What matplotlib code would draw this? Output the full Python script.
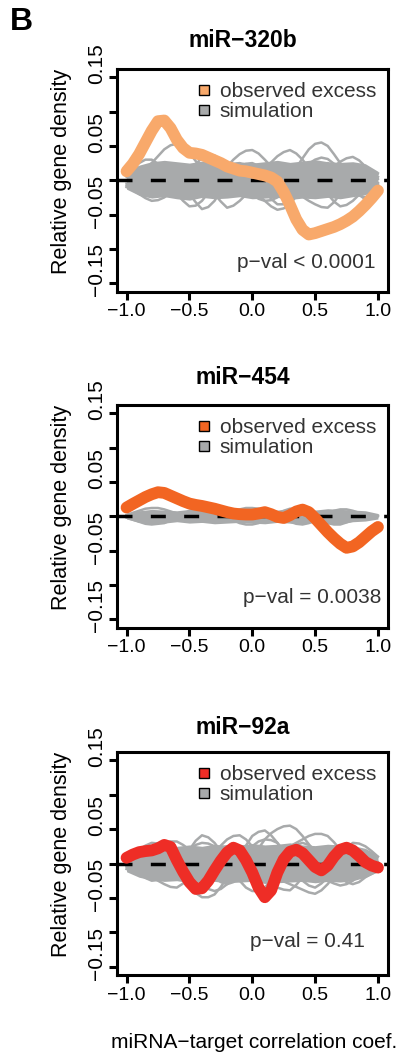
import matplotlib
matplotlib.use("Agg")
import matplotlib.pyplot as plt
from matplotlib.lines import Line2D
from matplotlib.transforms import ScaledTranslation

plt.rcParams['font.family'] = ['Liberation Sans', 'DejaVu Sans']
plt.rcParams['lines.scale_dashes'] = False

# ---------------- data ----------------
titles = ["miR\u2212320b", "miR\u2212454", "miR\u221292a"]
pvals = ["p\u2212val < 0.0001", "p\u2212val = 0.0038", "p\u2212val = 0.41"]
obs_colors = ["#F8A96B", "#F26522", "#EE2D26"]
legend_labels = ["observed excess", "simulation"]

x_obs = [-1.00, -0.95, -0.90, -0.85, -0.80, -0.75, -0.70, -0.65, -0.60, -0.55,
         -0.50, -0.45, -0.40, -0.35, -0.30, -0.25, -0.20, -0.15, -0.10, -0.05,
         0.00, 0.05, 0.10, 0.15, 0.20, 0.25, 0.30, 0.35, 0.40, 0.45,
         0.50, 0.55, 0.60, 0.65, 0.70, 0.75, 0.80, 0.85, 0.90, 0.95, 1.00]

obs_320b = [0.013, 0.024, 0.038, 0.055, 0.072, 0.086, 0.087, 0.076, 0.059, 0.047,
            0.040, 0.039, 0.037, 0.033, 0.029, 0.025, 0.020, 0.017, 0.014, 0.013,
            0.011, 0.009, 0.007, 0.004, -0.002, -0.017, -0.036, -0.057, -0.072, -0.079,
            -0.077, -0.074, -0.071, -0.068, -0.064, -0.059, -0.053, -0.045, -0.036, -0.026, -0.015]

obs_454 = [0.0127, 0.018, 0.023, 0.028, 0.032, 0.035, 0.034, 0.030, 0.026, 0.022,
           0.0185, 0.0165, 0.015, 0.013, 0.011, 0.0085, 0.006, 0.004, 0.003, 0.0025,
           0.0025, 0.004, 0.006, 0.003, -0.001, -0.0025, 0.0015, 0.007, 0.0097, 0.006,
           -0.003, -0.013, -0.023, -0.032, -0.040, -0.046, -0.044, -0.038, -0.030, -0.022, -0.0156]

obs_92a = [0.0083, 0.013, 0.0165, 0.018, 0.019, 0.022, 0.027, 0.024, 0.005, -0.012,
           -0.027, -0.037, -0.036, -0.025, -0.010, 0.004, 0.016, 0.023, 0.019, 0.005,
           -0.013, -0.035, -0.049, -0.039, -0.013, 0.006, 0.017, 0.020, 0.015, 0.005,
           -0.005, -0.010, -0.003, 0.010, 0.020, 0.023, 0.019, 0.011, 0.002, -0.003, -0.006]

x_band = [-1.0, -0.9, -0.8, -0.7, -0.6, -0.5, -0.4, -0.3, -0.2, -0.1, 0.0,
          0.1, 0.2, 0.3, 0.4, 0.5, 0.6, 0.7, 0.8, 0.9, 1.0]

# dense simulation envelope (upper / lower)
sim_hi_320b = [0.014, 0.022, 0.027, 0.029, 0.027, 0.025, 0.028, 0.026, 0.024, 0.027, 0.025,
               0.027, 0.029, 0.026, 0.028, 0.030, 0.027, 0.026, 0.027, 0.024, 0.013]
sim_lo_320b = [-0.013, -0.022, -0.026, -0.024, -0.027, -0.029, -0.025, -0.027, -0.026, -0.024, -0.027,
               -0.026, -0.025, -0.028, -0.026, -0.027, -0.025, -0.027, -0.024, -0.021, -0.012]
# individual simulation curves (on the x_obs grid)
sim_curves_320b = [
    [0.000, 0.005, 0.010, 0.017, 0.025, 0.035, 0.045, 0.051, 0.053, 0.048, 0.040, 0.028, 0.015, 0.004, -0.005, -0.009, -0.010, -0.006, 0.000, 0.005, 0.008, 0.011, 0.012, 0.012, 0.010, 0.005, 0.000, -0.005, -0.008, -0.008, -0.005, 0.000, 0.005, 0.008, 0.010, 0.009, 0.006, 0.003, 0.000, -0.002, -0.004],
    [-0.005, -0.003, 0.000, 0.005, 0.008, 0.010, 0.010, 0.007, 0.002, -0.004, -0.010, -0.014, -0.015, -0.011, -0.005, 0.001, 0.006, 0.009, 0.010, 0.008, 0.005, 0.000, -0.005, -0.009, -0.010, -0.005, 0.005, 0.018, 0.032, 0.045, 0.053, 0.055, 0.050, 0.038, 0.025, 0.013, 0.005, 0.001, 0.000, 0.001, 0.002],
    [0.005, 0.008, 0.010, 0.009, 0.005, -0.002, -0.010, -0.015, -0.020, -0.030, -0.038, -0.037, -0.030, -0.018, -0.005, 0.008, 0.020, 0.030, 0.038, 0.043, 0.044, 0.039, 0.030, 0.020, 0.010, 0.000, -0.010, -0.016, -0.020, -0.019, -0.015, -0.007, 0.000, 0.006, 0.010, 0.009, 0.005, 0.000, -0.005, -0.007, -0.008],
    [-0.010, -0.013, -0.015, -0.013, -0.010, -0.005, 0.000, 0.006, 0.010, 0.010, 0.008, 0.002, -0.005, -0.012, -0.020, -0.031, -0.040, -0.037, -0.030, -0.021, -0.010, 0.002, 0.015, 0.026, 0.035, 0.041, 0.044, 0.039, 0.030, 0.018, 0.005, -0.008, -0.020, -0.031, -0.038, -0.036, -0.030, -0.021, -0.012, -0.008, -0.005],
    [0.008, 0.007, 0.005, -0.002, -0.010, -0.016, -0.020, -0.019, -0.015, -0.008, 0.000, 0.008, 0.015, 0.019, 0.020, 0.016, 0.010, 0.002, -0.005, -0.010, -0.015, -0.022, -0.030, -0.038, -0.043, -0.041, -0.035, -0.023, -0.010, 0.000, 0.008, 0.012, 0.015, 0.020, 0.027, 0.032, 0.034, 0.029, 0.020, 0.012, 0.005],
    [0.000, 0.006, 0.012, 0.017, 0.020, 0.019, 0.015, 0.008, 0.000, -0.010, -0.020, -0.032, -0.042, -0.039, -0.030, -0.015, 0.000, 0.011, 0.020, 0.024, 0.025, 0.021, 0.015, 0.008, 0.000, -0.006, -0.012, -0.018, -0.024, -0.030, -0.035, -0.039, -0.040, -0.032, -0.020, -0.007, 0.005, 0.012, 0.015, 0.012, 0.010],
    [-0.008, -0.014, -0.020, -0.026, -0.030, -0.029, -0.025, -0.018, -0.010, 0.000, 0.010, 0.023, 0.033, 0.038, 0.036, 0.029, 0.020, 0.010, 0.000, -0.010, -0.020, -0.027, -0.030, -0.029, -0.025, -0.018, -0.010, 0.002, 0.015, 0.024, 0.030, 0.033, 0.031, 0.024, 0.015, 0.003, -0.010, -0.021, -0.028, -0.024, -0.015],
    [0.010, 0.018, 0.025, 0.030, 0.030, 0.024, 0.015, 0.003, -0.010, -0.020, -0.025, -0.024, -0.020, -0.010, 0.000, 0.010, 0.018, 0.024, 0.025, 0.019, 0.010, -0.002, -0.015, -0.027, -0.035, -0.035, -0.030, -0.018, -0.005, 0.006, 0.015, 0.022, 0.025, 0.019, 0.010, -0.003, -0.015, -0.022, -0.025, -0.019, -0.010],
]

sim_hi_454 = [0.004, 0.008, 0.010, 0.009, 0.008, 0.010, 0.009, 0.011, 0.010, 0.009, 0.011,
              0.010, 0.009, 0.011, 0.010, 0.009, 0.011, 0.010, 0.009, 0.008, 0.004]
sim_lo_454 = [-0.004, -0.009, -0.011, -0.010, -0.008, -0.010, -0.009, -0.011, -0.010, -0.009, -0.010,
              -0.011, -0.009, -0.010, -0.011, -0.009, -0.010, -0.011, -0.008, -0.007, -0.004]
sim_curves_454 = [
    [0.002, 0.005, 0.008, 0.011, 0.012, 0.012, 0.010, 0.007, 0.004, 0.000, -0.004, -0.007, -0.008, -0.007, -0.004, 0.000, 0.004, 0.008, 0.010, 0.012, 0.012, 0.011, 0.008, 0.004, 0.000, -0.004, -0.008, -0.011, -0.012, -0.010, -0.006, -0.001, 0.004, 0.008, 0.010, 0.010, 0.008, 0.005, 0.002, 0.001, 0.000],
    [-0.002, -0.005, -0.008, -0.011, -0.012, -0.011, -0.010, -0.006, -0.002, 0.003, 0.008, 0.011, 0.012, 0.011, 0.008, 0.003, -0.002, -0.006, -0.010, -0.012, -0.012, -0.010, -0.006, -0.001, 0.004, 0.008, 0.011, 0.011, 0.008, 0.003, -0.002, -0.006, -0.010, -0.012, -0.012, -0.009, -0.006, -0.003, 0.000, 0.001, 0.001],
]

sim_hi_92a = [0.012, 0.020, 0.024, 0.026, 0.025, 0.027, 0.025, 0.028, 0.026, 0.027, 0.029,
              0.027, 0.028, 0.030, 0.027, 0.026, 0.028, 0.027, 0.026, 0.022, 0.012]
sim_lo_92a = [-0.012, -0.020, -0.024, -0.026, -0.025, -0.028, -0.027, -0.026, -0.028, -0.027, -0.026,
              -0.029, -0.028, -0.027, -0.026, -0.028, -0.026, -0.027, -0.025, -0.020, -0.012]
sim_curves_92a = [
    [0.000, -0.003, -0.005, -0.008, -0.010, -0.008, -0.005, 0.000, 0.005, 0.009, 0.010, 0.008, 0.005, -0.002, -0.010, -0.016, -0.020, -0.017, -0.010, 0.000, 0.010, 0.022, 0.035, 0.044, 0.050, 0.054, 0.055, 0.050, 0.040, 0.028, 0.015, 0.002, -0.010, -0.017, -0.020, -0.016, -0.010, -0.005, 0.000, 0.001, 0.002],
    [0.005, 0.008, 0.010, 0.010, 0.008, 0.004, 0.000, -0.007, -0.015, -0.025, -0.035, -0.043, -0.049, -0.049, -0.045, -0.034, -0.020, -0.005, 0.010, 0.026, 0.040, 0.046, 0.048, 0.041, 0.030, 0.015, 0.000, -0.011, -0.020, -0.024, -0.025, -0.019, -0.010, 0.000, 0.010, 0.014, 0.015, 0.011, 0.005, 0.002, 0.000],
    [-0.005, -0.003, 0.000, 0.005, 0.010, 0.014, 0.015, 0.011, 0.005, -0.003, -0.010, -0.010, -0.005, 0.004, 0.015, 0.026, 0.035, 0.040, 0.041, 0.035, 0.025, 0.013, 0.000, -0.010, -0.020, -0.026, -0.030, -0.034, -0.038, -0.042, -0.044, -0.039, -0.030, -0.018, -0.005, 0.006, 0.015, 0.014, 0.010, 0.005, 0.000],
    [0.000, 0.003, 0.005, 0.003, 0.000, -0.006, -0.010, -0.009, -0.005, 0.006, 0.020, 0.033, 0.041, 0.038, 0.030, 0.018, 0.005, -0.006, -0.015, -0.019, -0.020, -0.016, -0.010, 0.000, 0.010, 0.018, 0.025, 0.030, 0.035, 0.040, 0.043, 0.043, 0.040, 0.031, 0.020, 0.009, 0.000, -0.006, -0.010, -0.008, -0.005],
    [0.000, -0.005, -0.010, -0.015, -0.020, -0.025, -0.030, -0.034, -0.035, -0.029, -0.020, -0.010, 0.000, 0.011, 0.020, 0.024, 0.025, 0.019, 0.010, 0.000, -0.010, -0.018, -0.025, -0.031, -0.035, -0.038, -0.039, -0.031, -0.020, -0.007, 0.005, 0.013, 0.020, 0.024, 0.025, 0.019, 0.010, 0.002, -0.005, -0.007, -0.008],
    [0.008, 0.012, 0.015, 0.018, 0.022, 0.026, 0.030, 0.032, 0.032, 0.027, 0.020, 0.010, 0.000, -0.010, -0.020, -0.027, -0.030, -0.027, -0.020, -0.010, 0.000, 0.008, 0.015, 0.019, 0.020, 0.016, 0.010, 0.000, -0.010, -0.016, -0.020, -0.023, -0.025, -0.029, -0.032, -0.030, -0.025, -0.018, -0.010, -0.007, -0.005],
    [-0.008, -0.011, -0.015, -0.021, -0.025, -0.024, -0.020, -0.011, 0.000, 0.011, 0.020, 0.027, 0.030, 0.029, 0.025, 0.016, 0.005, -0.010, -0.025, -0.035, -0.040, -0.040, -0.035, -0.024, -0.010, 0.006, 0.020, 0.027, 0.030, 0.027, 0.020, 0.011, 0.000, -0.011, -0.020, -0.027, -0.030, -0.027, -0.020, -0.015, -0.010],
    [0.005, 0.013, 0.020, 0.026, 0.030, 0.029, 0.025, 0.018, 0.010, 0.000, -0.010, -0.021, -0.030, -0.037, -0.040, -0.037, -0.030, -0.016, 0.000, 0.013, 0.025, 0.032, 0.035, 0.034, 0.030, 0.019, 0.005, -0.011, -0.025, -0.032, -0.035, -0.029, -0.020, -0.005, 0.010, 0.022, 0.030, 0.029, 0.025, 0.018, 0.010],
]

observed = [obs_320b, obs_454, obs_92a]
sim_hi = [sim_hi_320b, sim_hi_454, sim_hi_92a]
sim_lo = [sim_lo_320b, sim_lo_454, sim_lo_92a]
sim_curves = [sim_curves_320b, sim_curves_454, sim_curves_92a]

xticks = [-1.0, -0.5, 0.0, 0.5, 1.0]
xtick_labels = ["\u22121.0", "\u22120.5", "0.0", "0.5", "1.0"]
yticks = [0.15, 0.10, 0.05, 0.0, -0.05, -0.10, -0.15]
ytick_labels = ["0.15", "", "0.05", "", "\u22120.05", "", "\u22120.15"]

# ---------------- layout ----------------
W, H = 399, 1056
GRAY = "#A8AAAB"
TXT = "#333333"
fig = plt.figure(figsize=(W / 100, H / 100), dpi=100)

boxes = [(69, 291.5), (405, 627.5), (752, 975)]   # top, bottom in px
title_base = [46.7, 383.5, 733.5]
pval_pos = [(0.699, 0.132), (0.721, 0.135), (0.704, 0.148)]
left_px, right_px = 116.5, 388

for i in range(3):
    top, bot = boxes[i]
    ax = fig.add_axes([left_px / W, 1 - bot / H, (right_px - left_px) / W, (bot - top) / H])
    ax.fill_between(x_band, sim_lo[i], sim_hi[i], color=GRAY, lw=0, zorder=1)
    for c in sim_curves[i]:
        ax.plot(x_obs, c, color=GRAY, lw=1.8, zorder=1.5, solid_joinstyle='round')
    ax.axhline(0, color='black', lw=2.5, ls=(0, (10.8, 13.2)), zorder=2)
    ax.plot(x_obs, observed[i], color=obs_colors[i], lw=8.5,
            solid_capstyle='round', solid_joinstyle='round', zorder=3)

    ax.set_xlim(-1.08, 1.08)
    ax.set_ylim(-0.162, 0.162)
    ax.set_xticks(xticks)
    ax.set_xticklabels(xtick_labels)
    ax.set_yticks(yticks)
    ax.set_yticklabels(ytick_labels)
    for s in ax.spines.values():
        s.set_linewidth(2.2)
    ax.tick_params(direction='out', length=6, width=2.2, colors='black')
    ax.tick_params(axis='x', labelsize=14, pad=2.5)
    ax.tick_params(axis='y', labelsize=15, pad=1.5, labelrotation=90)
    off = ScaledTranslation(0, 13.3 / 100, fig.dpi_scale_trans)
    for lab in ax.get_yticklabels():
        lab.set_family(['Liberation Sans Narrow', 'Liberation Sans'])
        lab.set_va('center')
        lab.set_transform(lab.get_transform() + off)

    handles = [Line2D([], [], marker='s', ls='none', markersize=6.5,
                      markerfacecolor=obs_colors[i], markeredgecolor='black', markeredgewidth=1.0),
               Line2D([], [], marker='s', ls='none', markersize=6.5,
                      markerfacecolor=GRAY, markeredgecolor='black', markeredgewidth=1.0)]
    ax.legend(handles, legend_labels, loc='upper left', bbox_to_anchor=(0.298, 0.94),
              frameon=False, borderpad=0, borderaxespad=0, handlelength=0.6,
              handletextpad=0.48, labelspacing=0.05, fontsize=15, labelcolor=TXT)

    ax.text(pval_pos[i][0], pval_pos[i][1], pvals[i], transform=ax.transAxes,
            ha='center', va='center', fontsize=15, color=TXT)

    fig.text(243 / W, 1 - title_base[i] / H, titles[i], ha='center', va='baseline',
             fontsize=16.5, fontweight='bold')
    yc = (top + bot) / 2 - 9
    fig.text(62 / W, 1 - yc / H, "Relative gene density", rotation=90,
             ha='center', va='center', fontsize=15.5)

fig.text(10 / W, 1 - 30 / H, "B", fontsize=23, fontweight='bold', ha='left', va='baseline')
fig.text(254 / W, 1 - 1048 / H, "miRNA\u2212target correlation coef.", ha='center',
         va='baseline', fontsize=15)

fig.savefig("out.png", dpi=100)
